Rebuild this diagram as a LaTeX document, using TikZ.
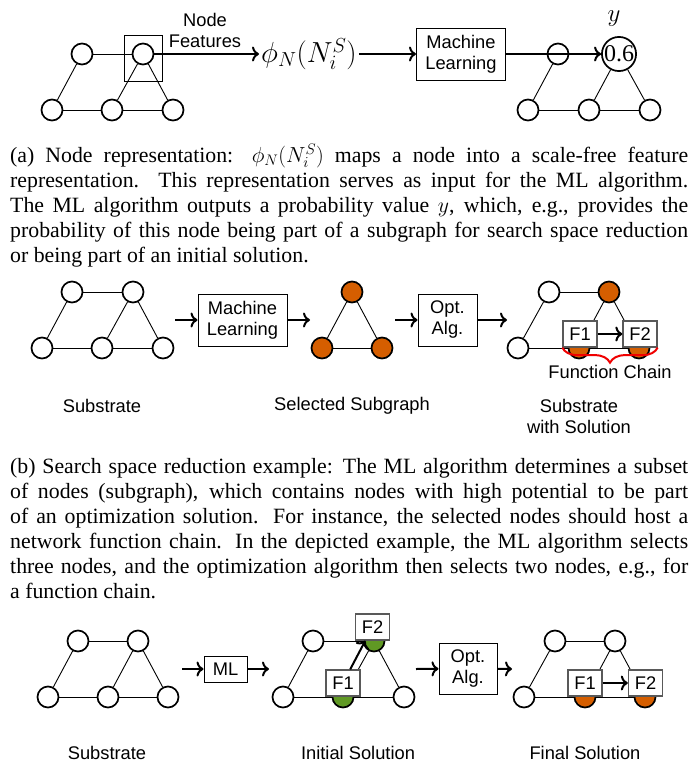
\RequirePackage{fix-cm}
\documentclass[tikz,border=0pt]{standalone}
\usepackage{fontspec}
\setmainfont{Liberation Serif}
\setsansfont{Liberation Sans}
\usetikzlibrary{arrows,arrows.meta,positioning,decorations.pathreplacing}
\definecolor{selorange}{RGB}{213,94,0}
\definecolor{inigreen}{RGB}{96,153,36}
\definecolor{chainred}{RGB}{240,0,0}
\hbadness=10000

\begin{document}
\begin{tikzpicture}[x=1pt,y=-1pt,
  every node/.style={font=\sffamily\fontsize{18.3}{21}\selectfont},
  vtx/.style={circle,draw,line width=1.7pt,minimum size=21pt,inner sep=0pt,fill=white},
  sel/.style={vtx,fill=selorange},
  ini/.style={vtx,fill=inigreen},
  edg/.style={line width=0.9pt},
  alg/.style={draw,line width=1pt,align=center,inner sep=0pt},
  fn/.style={draw=black!65,line width=1.3pt,fill=white,minimum width=34pt,minimum height=26pt,inner sep=0pt},
  flow/.style={-{Computer Modern Rightarrow[length=7pt,width=15pt]},line width=2pt},
  caption/.style={anchor=base west,inner sep=0pt,text width=678pt,align=justify,
    font=\rmfamily\fontsize{21.8}{25}\selectfont}]
\fill[white] (0,0) rectangle (698,766);
\useasboundingbox (0,0) rectangle (698,766);

\node[vtx] (al-tl) at (82,54) {};
\node[vtx] (al-tr) at (143,54) {};
\node[vtx] (al-bl) at (52,110) {};
\node[vtx] (al-bm) at (112,110) {};
\node[vtx] (al-br) at (173,110) {};
\draw[edg] (al-tl) edge (al-tr) (al-tl) edge (al-bl) (al-tr) edge (al-bm)
  (al-tr) edge (al-br) (al-bl) edge (al-bm) (al-bm) edge (al-br);
\node[draw,line width=0.9pt,minimum width=38pt,minimum height=46pt] (focus) at (143,58) {};
\node[align=center] (feat) at (205,30) {Node\\Features};
\node[anchor=west,inner sep=2pt,font=\fontsize{29}{32}\selectfont] (phi) at (259,54) {$\phi_N(N_i^S)$};
\node[alg,minimum width=89pt,minimum height=52pt] (ml) at (461,54) {Machine\\Learning};
\node[vtx] (ar-tl) at (558,54) {};
\node[vtx,minimum size=34pt,font=\rmfamily\fontsize{24}{26}\selectfont] (ar-tr) at (619,54) {0.6};
\node[vtx] (ar-bl) at (528,110) {};
\node[vtx] (ar-bm) at (589,110) {};
\node[vtx] (ar-br) at (650,110) {};
\node[font=\fontsize{25}{28}\selectfont] (yval) at (614,19) {$y$};
\draw[edg] (ar-tl) edge (ar-tr) (ar-tl) edge (ar-bl) (ar-tr) edge (ar-bm)
  (ar-tr) edge (ar-br) (ar-bl) edge (ar-bm) (ar-bm) edge (ar-br);
\draw[flow] (al-tr) -- (phi);
\draw[flow] (phi) -- (ml);
\draw[flow] (ml) -- (ar-tr);

\node[caption] (capa) at (10,162) {%
\makebox[678pt][s]{(a) Node representation: $\phi_N(N_i^S)$ maps a node into a scale-free feature}\\
\makebox[678pt][s]{representation. This representation serves as input for the ML algorithm.}\\
\makebox[678pt][s]{The ML algorithm outputs a probability value $y$, which, e.g., provides the}\\
\makebox[678pt][s]{probability of this node being part of a subgraph for search space reduction}\\
or being part of an initial solution.};

\node[vtx] (bs-tl) at (72,292) {};
\node[vtx] (bs-tr) at (133,292) {};
\node[vtx] (bs-bl) at (42,348) {};
\node[vtx] (bs-bm) at (102,348) {};
\node[vtx] (bs-br) at (163,348) {};
\draw[edg] (bs-tl) edge (bs-tr) (bs-tl) edge (bs-bl) (bs-tr) edge (bs-bm)
  (bs-tr) edge (bs-br) (bs-bl) edge (bs-bm) (bs-bm) edge (bs-br);
\coordinate (bin) at (175,320);
\node[alg,minimum width=89pt,minimum height=52pt] (bml) at (242.5,320) {Machine\\Learning};
\coordinate (bmlout) at (310,320);
\draw[flow] (bin) -- (bml);
\draw[flow] (bml) -- (bmlout);
\node[sel] (bg-t) at (352,292) {};
\node[sel] (bg-l) at (322,348) {};
\node[sel] (bg-r) at (382,348) {};
\draw[edg] (bg-t) edge (bg-l) (bg-t) edge (bg-r) (bg-l) edge (bg-r);
\coordinate (boptin) at (395,320);
\node[alg,minimum width=59pt,minimum height=52pt] (bopt) at (447.5,320) {Opt.\\Alg.};
\coordinate (boptout) at (507,320);
\draw[flow] (boptin) -- (bopt);
\draw[flow] (bopt) -- (boptout);
\node[vtx] (bz-tl) at (549,292) {};
\node[sel] (bz-tr) at (609,292) {};
\node[vtx] (bz-bl) at (518,348) {};
\node[sel] (bz-bm) at (579,348) {};
\node[sel] (bz-br) at (639,348) {};
\draw[edg] (bz-tl) edge (bz-tr) (bz-tl) edge (bz-bl) (bz-tr) edge (bz-bm)
  (bz-tr) edge (bz-br) (bz-bl) edge (bz-bm) (bz-bm) edge (bz-br);
\node[fn] (bf1) at (580,334) {F1};
\node[fn] (bf2) at (640,334) {F2};
\draw[flow] (bf1) -- (bf2);
\draw[chainred,line width=2pt,decorate,decoration={brace,mirror,amplitude=15pt}]
  (bf1.south west) -- (bf2.south east);
\node (fc) at (610,372) {Function Chain};
\node (bl1) at (102,406) {Substrate};
\node (bl2) at (352,406) {Selected Subgraph};
\node[align=center] (bl3) at (579,416.5) {Substrate\\with Solution};

\node[caption] (capb) at (10,473) {%
\makebox[678pt][s]{(b) Search space reduction example: The ML algorithm determines a subset}\\
\makebox[678pt][s]{of nodes (subgraph), which contains nodes with high potential to be part}\\
\makebox[678pt][s]{of an optimization solution. For instance, the selected nodes should host a}\\
\makebox[678pt][s]{network function chain. In the depicted example, the ML algorithm selects}\\
\makebox[678pt][s]{three nodes, and the optimization algorithm then selects two nodes, e.g., for}\\
a function chain.};

\node[vtx] (cs-tl) at (78,641) {};
\node[vtx] (cs-tr) at (138,641) {};
\node[vtx] (cs-bl) at (48,697) {};
\node[vtx] (cs-bm) at (108,697) {};
\node[vtx] (cs-br) at (168,697) {};
\draw[edg] (cs-tl) edge (cs-tr) (cs-tl) edge (cs-bl) (cs-tr) edge (cs-bm)
  (cs-tr) edge (cs-br) (cs-bl) edge (cs-bm) (cs-bm) edge (cs-br);
\coordinate (cin) at (182,669);
\node[alg,minimum width=43pt,minimum height=26pt] (cml) at (225.5,669) {ML};
\coordinate (cmlout) at (269,669);
\draw[flow] (cin) -- (cml);
\draw[flow] (cml) -- (cmlout);
\node[vtx] (ci-tl) at (313,641) {};
\node[ini] (ci-tr) at (374,641) {};
\node[vtx] (ci-bl) at (283,697) {};
\node[ini] (ci-bm) at (343,697) {};
\node[vtx] (ci-br) at (404,697) {};
\draw[edg] (ci-tl) edge (ci-tr) (ci-tl) edge (ci-bl) (ci-tr) edge (ci-bm)
  (ci-tr) edge (ci-br) (ci-bl) edge (ci-bm) (ci-bm) edge (ci-br);
\node[fn] (cf2) at (372.5,627) {F2};
\node[fn] (cf1) at (343,683) {F1};
\draw[flow] (cf1) -- (cf2);
\coordinate (coptin) at (416,669);
\node[alg,minimum width=58pt,minimum height=51pt] (copt) at (468,668.5) {Opt.\\Alg.};
\coordinate (coptout) at (512,669);
\draw[flow] (coptin) -- (copt);
\draw[flow] (copt) -- (coptout);
\node[vtx] (cz-tl) at (555,641) {};
\node[vtx] (cz-tr) at (615,641) {};
\node[vtx] (cz-bl) at (524,697) {};
\node[sel] (cz-bm) at (585,697) {};
\node[sel] (cz-br) at (645,697) {};
\draw[edg] (cz-tl) edge (cz-tr) (cz-tl) edge (cz-bl) (cz-tr) edge (cz-bm)
  (cz-tr) edge (cz-br) (cz-bl) edge (cz-bm) (cz-bm) edge (cz-br);
\node[fn] (cf3) at (585,683) {F1};
\node[fn] (cf4) at (645.5,683) {F2};
\draw[flow] (cf3) -- (cf4);
\node (cl1) at (107,753) {Substrate};
\node (cl2) at (358,753) {Initial Solution};
\node (cl3) at (585,753) {Final Solution};
\end{tikzpicture}
\end{document}
